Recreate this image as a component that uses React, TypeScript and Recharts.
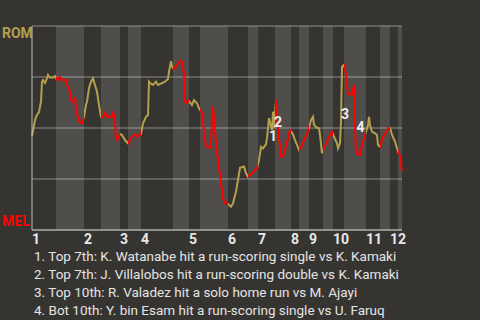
import { LineChart, Line, XAxis, YAxis, CartesianGrid, ReferenceArea, ReferenceDot } from 'recharts'

const innings = ['1', '2', '3', '4', '5', '6', '7', '8', '9', '10', '11', '12']
// pitch number where each half inning starts
const topStarts = [0, 52, 88, 109, 157, 196, 226, 259, 277, 301, 334, 358]
const bottomStarts = [24, 69, 96, 141, 168, 216, 243, 267, 291, 312, 348, 366]
const lastPitch = 370

const pitch = [
  0, 3, 5, 7, 9, 10, 11, 13, 15, 16,
  18, 21, 23, 25, 28, 30, 34, 35, 38, 39,
  41, 43, 44, 46, 48, 50, 52, 54, 55, 57,
  59, 61, 62, 65, 67, 69, 71, 73, 75, 80,
  81, 83, 84, 85, 88, 90, 93, 96, 100, 103,
  106, 109, 111, 114, 116, 117, 118, 121, 124, 126,
  130, 133, 136, 137, 139, 140, 142, 145, 148, 150,
  152, 153, 155, 156, 160, 162, 165, 167, 170, 172,
  174, 178, 179, 180, 181, 182, 185, 188, 191, 193,
  195, 199, 201, 204, 206, 208, 212, 214, 216, 220,
  223, 225, 227, 229, 231, 234, 235, 237, 239, 240,
  241, 242, 244, 245, 247, 249, 251, 254, 256, 258,
  261, 263, 265, 267, 270, 273, 276, 279, 281, 282,
  285, 287, 288, 290, 292, 295, 298, 300, 302, 305,
  306, 308, 309, 310, 312, 313, 315, 316, 320, 322,
  323, 324, 328, 330, 333, 336, 337, 338, 340, 343,
  345, 346, 348, 351, 355, 356, 358, 360, 363, 364,
  366, 368, 370,
]

// ROM win probability
const romWp = [
  0.461, 0.539, 0.564, 0.578, 0.629, 0.727, 0.735, 0.721, 0.745, 0.76,
  0.747, 0.747, 0.755, 0.735, 0.749, 0.735, 0.735, 0.711, 0.678, 0.637,
  0.629, 0.646, 0.598, 0.549, 0.525, 0.525, 0.555, 0.613, 0.629, 0.695,
  0.727, 0.744, 0.727, 0.678, 0.613, 0.555, 0.555, 0.575, 0.555, 0.555,
  0.583, 0.531, 0.441, 0.441, 0.471, 0.466, 0.441, 0.425, 0.457, 0.469,
  0.457, 0.471, 0.523, 0.555, 0.564, 0.727, 0.72, 0.711, 0.727, 0.711,
  0.72, 0.727, 0.74, 0.776, 0.828, 0.801, 0.789, 0.809, 0.83, 0.822,
  0.76, 0.629, 0.621, 0.637, 0.613, 0.637, 0.621, 0.597, 0.572, 0.482,
  0.408, 0.403, 0.417, 0.539, 0.605, 0.531, 0.382, 0.27, 0.155, 0.131,
  0.131, 0.114, 0.131, 0.188, 0.245, 0.305, 0.311, 0.278, 0.261, 0.278,
  0.294, 0.302, 0.343, 0.408, 0.4, 0.42, 0.45, 0.548, 0.506, 0.49,
  0.58, 0.499, 0.637, 0.548, 0.45, 0.359, 0.359, 0.408, 0.45, 0.49,
  0.469, 0.441, 0.417, 0.392, 0.417, 0.45, 0.482, 0.539, 0.555, 0.515,
  0.501, 0.499, 0.466, 0.376, 0.4, 0.433, 0.466, 0.482, 0.457, 0.425,
  0.4, 0.425, 0.531, 0.8, 0.809, 0.793, 0.711, 0.665, 0.665, 0.711,
  0.515, 0.376, 0.368, 0.417, 0.466, 0.515, 0.555, 0.515, 0.482, 0.474,
  0.466, 0.417, 0.408, 0.457, 0.482, 0.499, 0.501, 0.466, 0.433, 0.417,
  0.385, 0.363, 0.29,
]

const noteLabels = ['1', '2', '3', '4']
const notePitch = [241, 246, 313, 328.5]
const noteWp = [0.461, 0.527, 0.569, 0.505]
const notes = [
  '1. Top 7th: K. Watanabe hit a run-scoring single vs K. Kamaki',
  '2. Top 7th: J. Villalobos hit a run-scoring double vs K. Kamaki',
  '3. Top 10th: R. Valadez hit a solo home run vs M. Ajayi',
  '4. Bot 10th: Y. bin Esam hit a run-scoring single vs U. Faruq',
]

const GOLD = '#b4a04c'
const RED = '#ff0000'
const FONT = 'Roboto, sans-serif'

const data = pitch.map((p, i) => ({ pitch: p, wp: romWp[i] }))

const bottomHalves = bottomStarts.map((s, i) => ({
  x1: s,
  x2: i + 1 < topStarts.length ? topStarts[i + 1] : lastPitch,
}))

// hard colour stops: gold while ROM bats, red while MEL bats
const stops: { offset: number; color: string }[] = []
topStarts.forEach((t, i) => {
  const b = bottomStarts[i]
  const end = i + 1 < topStarts.length ? topStarts[i + 1] : lastPitch
  stops.push({ offset: t / lastPitch, color: GOLD }, { offset: b / lastPitch, color: GOLD })
  stops.push({ offset: b / lastPitch, color: RED }, { offset: end / lastPitch, color: RED })
})

function SideTick(props: any) {
  const { y, payload } = props
  if (payload.value === 1) {
    return <text x={2} y={y + 12} fill={GOLD} fontSize={14} fontWeight="bold" fontFamily={FONT}>ROM</text>
  }
  if (payload.value === 0) {
    return <text x={2} y={y - 4} fill={RED} fontSize={14} fontWeight="bold" fontFamily={FONT}>MEL</text>
  }
  return null
}

function InningTick(props: any) {
  const { x, y, index } = props
  return (
    <text x={x} y={y + 6} fill="#e8e8e8" fontSize={14} fontWeight="bold" fontFamily={FONT} textAnchor="start">
      {innings[index]}
    </text>
  )
}

export default function App() {
  return (
    <div style={{ position: 'absolute', left: 0, top: 0, width: 480, height: 320, background: '#363431', overflow: 'hidden' }}>
      <svg width={0} height={0} style={{ position: 'absolute' }}>
        <defs>
          <linearGradient id="wpStroke" x1="0" y1="0" x2="1" y2="0">
            {stops.map((s, i) => (
              <stop key={i} offset={s.offset} stopColor={s.color} />
            ))}
          </linearGradient>
        </defs>
      </svg>
      <LineChart width={480} height={320} data={data} margin={{ top: 26, right: 78, left: 0, bottom: 0 }}>
        {bottomHalves.map((h, i) => (
          <ReferenceArea key={i} x1={h.x1} x2={h.x2} y1={0} y2={1} fill="#ffffff" fillOpacity={0.13} stroke="none" />
        ))}
        <CartesianGrid vertical={false} stroke="#8c8c8c" />
        <XAxis
          dataKey="pitch"
          type="number"
          domain={[0, lastPitch]}
          ticks={topStarts}
          interval={0}
          height={90}
          tickLine={false}
          axisLine={{ stroke: '#bbbbbb' }}
          tick={<InningTick />}
        />
        <YAxis
          type="number"
          domain={[0, 1]}
          ticks={[0, 0.25, 0.5, 0.75, 1]}
          width={32}
          tickLine={false}
          axisLine={{ stroke: '#bbbbbb' }}
          tick={<SideTick />}
        />
        <Line
          type="linear"
          dataKey="wp"
          stroke="url(#wpStroke)"
          strokeWidth={2}
          dot={false}
          isAnimationActive={false}
        />
        {noteLabels.map((n, i) => (
          <ReferenceDot
            key={n}
            x={notePitch[i]}
            y={noteWp[i]}
            r={1}
            fill="none"
            stroke="none"
            label={{ value: n, position: 'center', fill: '#eeeeee', fontSize: 14, fontWeight: 'bold', fontFamily: FONT }}
          />
        ))}
      </LineChart>
      <div style={{ position: 'absolute', left: 34, top: 247, fontFamily: FONT, fontSize: 13.5, lineHeight: '18px', color: '#e4e4e4', whiteSpace: 'nowrap' }}>
        {notes.map((t) => (
          <div key={t}>{t}</div>
        ))}
      </div>
    </div>
  )
}
